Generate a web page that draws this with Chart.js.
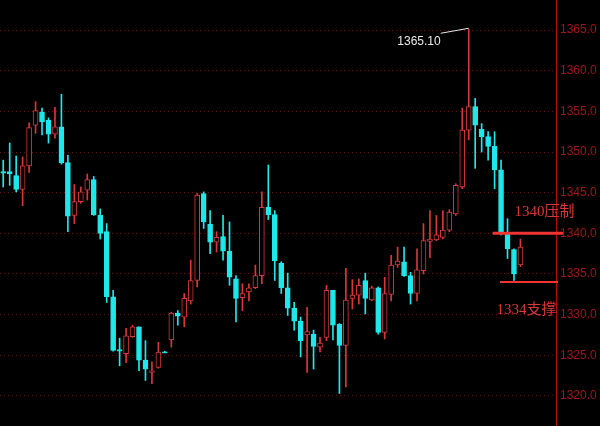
<!DOCTYPE html>
<html>
<head>
<meta charset="utf-8">
<script src="https://cdn.jsdelivr.net/npm/chart.js@4.4.1/dist/chart.umd.min.js"></script>
<style>
    html, body { margin: 0; padding: 0; background: #000; }
    #wrap { width: 600px; height: 426px; position: relative; }
</style>
</head>
<body>
<div id="wrap"><canvas id="kline"></canvas></div>
<script>
    "use strict";

    // Candle data
    var opens = [1347.6, 1347.6, 1347.1, 1345.4, 1348.3, 1353.3, 1354.9, 1353.9, 1352.2, 1353.1,
        1348.7, 1342.2, 1343.9, 1345.3, 1346.6, 1342.2, 1340.2, 1332.2, 1325.7, 1325.2,
        1327.3, 1328.5, 1324.4, 1322.9, 1323.5, 1325.4, 1326.9, 1330.2, 1329.7, 1331.7,
        1334.2, 1344.9, 1341.1, 1338.9, 1339.6, 1337.8, 1334.4, 1332.1, 1332.8, 1333.3,
        1334.8, 1343.2, 1342.3, 1336.3, 1333.3, 1330.8, 1329.2, 1327.5, 1327.6, 1326.0,
        1327.2, 1333.0, 1328.8, 1326.2, 1332.0, 1332.4, 1334.2, 1331.8, 1333.3, 1327.8,
        1332.5, 1336.1, 1336.5, 1334.8, 1332.6, 1335.4, 1339.0, 1339.2, 1339.5, 1340.4,
        1342.4, 1345.7, 1352.7, 1355.6, 1352.8, 1351.9, 1350.7, 1347.8, 1340.0, 1338.0,
        1336.1];
    var highs = [1349.0, 1351.1, 1349.5, 1349.4, 1353.6, 1356.2, 1355.4, 1354.2, 1355.5, 1357.1,
        1349.6, 1346.0, 1345.7, 1347.3, 1347.0, 1343.0, 1341.2, 1333.0, 1327.1, 1328.3,
        1328.7, 1328.5, 1326.8, 1324.2, 1326.6, 1325.5, 1330.3, 1330.5, 1332.6, 1336.7,
        1344.9, 1345.1, 1342.8, 1340.2, 1342.2, 1341.4, 1334.8, 1333.8, 1333.8, 1336.1,
        1345.1, 1348.4, 1342.8, 1336.5, 1335.1, 1331.5, 1329.7, 1330.9, 1328.1, 1327.2,
        1333.6, 1333.0, 1328.9, 1335.7, 1334.3, 1334.4, 1335.1, 1333.5, 1333.4, 1334.6,
        1337.3, 1338.3, 1338.3, 1335.2, 1338.1, 1341.2, 1342.8, 1342.2, 1342.8, 1342.9,
        1346.1, 1355.4, 1365.1, 1356.6, 1353.5, 1352.5, 1352.5, 1349.0, 1341.8, 1338.1,
        1339.3];
    var lows = [1345.7, 1345.9, 1345.1, 1343.4, 1347.5, 1352.3, 1352.1, 1351.1, 1351.7, 1348.5,
        1340.2, 1341.2, 1343.7, 1344.1, 1342.2, 1339.3, 1331.5, 1325.5, 1323.7, 1324.1,
        1327.2, 1323.1, 1321.9, 1321.5, 1323.4, 1325.3, 1326.0, 1328.7, 1328.5, 1331.3,
        1333.4, 1340.6, 1337.5, 1337.7, 1336.7, 1333.6, 1329.1, 1330.5, 1331.7, 1333.2,
        1333.8, 1341.7, 1334.2, 1332.6, 1329.9, 1328.1, 1324.8, 1322.9, 1323.3, 1325.4,
        1326.8, 1326.9, 1320.3, 1321.1, 1330.7, 1331.3, 1330.1, 1331.7, 1327.6, 1327.0,
        1331.7, 1335.8, 1334.7, 1331.3, 1331.7, 1335.0, 1337.0, 1339.1, 1339.3, 1340.2,
        1342.2, 1345.5, 1351.5, 1348.0, 1350.0, 1349.0, 1345.5, 1339.8, 1336.9, 1334.2,
        1335.9];
    var closes = [1347.4, 1347.3, 1345.4, 1348.3, 1353.0, 1355.1, 1353.7, 1352.2, 1353.1, 1348.7,
        1342.1, 1343.9, 1345.1, 1346.6, 1342.3, 1340.0, 1332.2, 1325.6, 1325.5, 1327.4,
        1328.5, 1324.4, 1323.3, 1323.1, 1325.4, 1325.3, 1330.2, 1329.8, 1332.0, 1334.2,
        1344.7, 1341.4, 1338.9, 1339.5, 1337.8, 1334.6, 1332.0, 1332.6, 1333.3, 1334.8,
        1343.2, 1342.3, 1336.6, 1333.3, 1330.8, 1329.2, 1326.8, 1327.9, 1326.1, 1326.5,
        1333.0, 1328.7, 1326.2, 1331.8, 1332.4, 1333.6, 1332.0, 1333.3, 1327.8, 1332.6,
        1336.1, 1336.6, 1334.8, 1332.6, 1335.5, 1339.1, 1339.3, 1339.8, 1340.4, 1342.6,
        1345.9, 1352.7, 1355.6, 1353.3, 1351.9, 1350.7, 1347.8, 1340.2, 1338.1, 1335.0,
        1338.3];

    var yTicks = [1320, 1325, 1330, 1335, 1340, 1345, 1350, 1355, 1360, 1365];
    var peakIndex = 72;
    var peakLabel = "1365.10";
    var levels = [1340, 1334];
    var levelLabels = ["1340压制", "1334支撑"];
    var emptySlots = 5;

    var upColor = "#d8383a";
    var downColor = "#1ee8ea";

    var labels = [];
    for (var i = 0; i < opens.length + emptySlots; i++) {
        labels.push(String(i + 1));
    }
    var bodies = opens.map(function (o, i) { return [o, closes[i]]; });
    var wicks = lows.map(function (l, i) { return [l, highs[i]]; });
    var isUp = function (i) { return closes[i] >= opens[i]; };

    // Level lines, labels and the peak tag
    var marks = {
        id: "marks",
        afterDatasetsDraw: function (chart) {
            var ctx = chart.ctx;
            var x = chart.scales.x;
            var y = chart.scales.y;
            var right = chart.chartArea.right;
            ctx.save();

            // 1340 resistance
            var y0 = y.getPixelForValue(levels[0]);
            ctx.strokeStyle = "#f03434";
            ctx.lineWidth = 3;
            ctx.beginPath();
            ctx.moveTo(x.getPixelForValue(76) - 2, y0);
            ctx.lineTo(right + 7, y0);
            ctx.stroke();

            // 1334 support
            var y1 = y.getPixelForValue(levels[1]);
            ctx.lineWidth = 2;
            ctx.beginPath();
            ctx.moveTo(x.getPixelForValue(77) - 1, y1);
            ctx.lineTo(right + 2, y1);
            ctx.stroke();

            ctx.fillStyle = "#d83838";
            ctx.font = "15px 'Liberation Serif', 'Noto Sans CJK SC', serif";
            ctx.textBaseline = "middle";
            ctx.textAlign = "left";
            ctx.fillText(levelLabels[0], x.getPixelForValue(78) + 7, y0 - 21);
            ctx.fillText(levelLabels[1], x.getPixelForValue(76) + 2, y1 + 28);

            // peak tag
            var px = x.getPixelForValue(peakIndex);
            var py = y.getPixelForValue(highs[peakIndex]);
            ctx.strokeStyle = "#e8e8e8";
            ctx.lineWidth = 1;
            ctx.beginPath();
            ctx.moveTo(px - 28, py + 4);
            ctx.lineTo(px, py - 1);
            ctx.stroke();
            ctx.fillStyle = "#e8e8e8";
            ctx.font = "12px 'Liberation Sans', Arial, sans-serif";
            ctx.textAlign = "right";
            ctx.fillText(peakLabel, px - 28, py + 12);
            ctx.restore();
        }
    };

    var ctx1 = document.getElementById("kline").getContext("2d");
    var myChart1 = new Chart(ctx1, {
        type: "bar",
        data: {
            labels: labels,
            datasets: [{
                    label: "body",
                    data: bodies,
                    grouped: false,
                    barThickness: 5,
                    borderWidth: 1,
                    borderSkipped: false,
                    minBarLength: 1,
                    backgroundColor: function (c) { return isUp(c.dataIndex) ? "#000" : downColor; },
                    borderColor: function (c) { return isUp(c.dataIndex) ? upColor : downColor; }
                },
                {
                    label: "wick",
                    data: wicks,
                    grouped: false,
                    barThickness: 1,
                    borderWidth: 0,
                    backgroundColor: function (c) { return isUp(c.dataIndex) ? upColor : downColor; }
                }
            ]
        },
        options: {
            responsive: true,
            maintainAspectRatio: false,
            animation: false,
            layout: { padding: 0 },
            plugins: {
                legend: { display: false },
                tooltip: { enabled: false }
            },
            scales: {
                x: {
                    display: false,
                    grid: { display: false }
                },
                y: {
                    position: "right",
                    min: 1316.3,
                    max: 1368.7,
                    afterFit: function (scale) {
                        scale.width = 44;
                        scale.paddingTop = 0;
                        scale.paddingBottom = 0;
                    },
                    afterBuildTicks: function (scale) {
                        scale.ticks = yTicks.map(function (v) { return { value: v }; });
                    },
                    grid: {
                        color: "rgba(150,20,20,0.75)",
                        lineWidth: 1,
                        drawTicks: false
                    },
                    border: {
                        display: true,
                        color: "#b40c0c",
                        width: 1,
                        dash: [1, 3]
                    },
                    ticks: {
                        color: "#a01616",
                        padding: 4,
                        font: { family: "'Liberation Sans', Arial, sans-serif", size: 12 },
                        callback: function (v) { return Number(v).toFixed(1); }
                    }
                }
            }
        },
        plugins: [marks]
    });
</script>
</body>
</html>
